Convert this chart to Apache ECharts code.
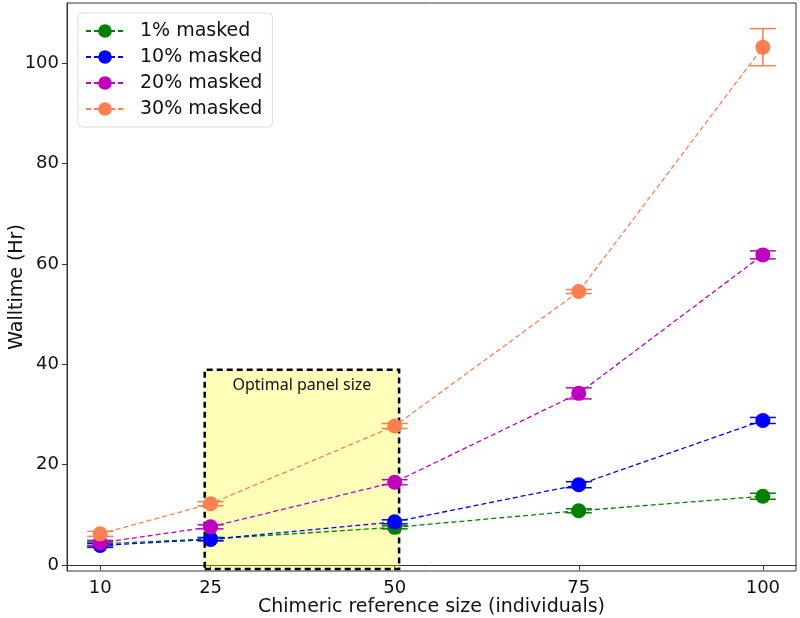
<!DOCTYPE html>
<html>
<head>
<meta charset="utf-8">
<script src="https://cdn.jsdelivr.net/npm/echarts@6/dist/echarts.min.js"></script>
<style>
  html, body { margin: 0; padding: 0; background: #fff; }
  #chart { width: 800px; height: 618px; }
</style>
</head>
<body>
<div id="chart"></div>
<script>
// reference sizes (individuals)
var sizes = [10, 25, 50, 75, 100];
var xTicks = [10, 25, 50, 75, 100];
var yTicks = [0, 20, 40, 60, 80, 100];

var names = ['1% masked', '10% masked', '20% masked', '30% masked'];
var colors = ['#008000', '#0000ff', '#bf00bf', '#ff7f50'];

// walltime means (Hr)
var mask1 = [4.2, 5.2, 7.5, 10.8, 13.7];
var mask10 = [3.9, 5.1, 8.6, 16.0, 28.8];
var mask20 = [4.4, 7.6, 16.5, 34.2, 61.8];
var mask30 = [6.2, 12.2, 27.7, 54.5, 103.2];

// error (+/-)
var err1 = [0.4, 0.3, 0.3, 0.4, 0.6];
var err10 = [0.4, 0.3, 0.4, 0.6, 0.6];
var err20 = [0.5, 0.4, 0.5, 1.1, 0.8];
var err30 = [0.5, 0.4, 0.5, 0.4, 3.7];

// optimal panel box
var boxX = [24.2, 50.6];
var boxY = [-0.8, 38.9];
var boxLabel = 'Optimal panel size';

var means = [mask1, mask10, mask20, mask30];
var errs = [err1, err10, err20, err30];

var chart = echarts.init(document.getElementById('chart'));
var font = 'DejaVu Sans';

function errorSeries(idx) {
  var data = sizes.map(function (x, i) {
    return [x, means[idx][i] - errs[idx][i], means[idx][i] + errs[idx][i]];
  });
  return {
    type: 'custom',
    name: 'err' + idx,
    z: 1,
    silent: true,
    itemStyle: { color: colors[idx] },
    data: data,
    renderItem: function (params, api) {
      var lo = api.coord([api.value(0), api.value(1)]);
      var hi = api.coord([api.value(0), api.value(2)]);
      var cap = 13;
      var st = { stroke: colors[idx], lineWidth: 1.5 };
      return {
        type: 'group',
        children: [
          { type: 'line', shape: { x1: lo[0], y1: lo[1], x2: hi[0], y2: hi[1] }, style: st },
          { type: 'line', shape: { x1: lo[0] - cap, y1: lo[1], x2: lo[0] + cap, y2: lo[1] }, style: st },
          { type: 'line', shape: { x1: hi[0] - cap, y1: hi[1], x2: hi[0] + cap, y2: hi[1] }, style: st }
        ]
      };
    }
  };
}

var series = [];
names.forEach(function (n, idx) {
  series.push({
    type: 'line',
    name: n,
    z: 3,
    data: sizes.map(function (x, i) { return [x, means[idx][i]]; }),
    symbol: 'circle',
    symbolSize: 15,
    itemStyle: { color: colors[idx] },
    lineStyle: { color: colors[idx], width: 1.3, type: [5, 3] }
  });
});
names.forEach(function (n, idx) {
  series.push(errorSeries(idx));
});

// translucent box drawn over the data
series.push({
  type: 'line',
  name: 'box',
  z: 10,
  data: [],
  markArea: {
    silent: true,
    itemStyle: {
      color: 'rgba(255,255,0,0.27)',
      borderColor: '#000',
      borderWidth: 2.5,
      borderType: [6, 4]
    },
    label: {
      show: true,
      position: 'insideTop',
      distance: 9,
      color: '#111',
      fontFamily: 'Noto Sans',
      fontSize: 16
    },
    data: [[
      { name: boxLabel, coord: [boxX[0], boxY[0]] },
      { coord: [boxX[1], boxY[1]] }
    ]]
  }
});

var option = {
  animation: false,
  backgroundColor: '#fff',
  grid: {
    left: 67, right: 4, top: 3, bottom: 47,
    outerBoundsMode: 'none',
    containLabel: false,
    show: true, borderColor: '#333', borderWidth: 1
  },
  legend: {
    data: names,
    orient: 'vertical',
    left: 78, top: 13,
    padding: [7, 10, 7, 7],
    itemWidth: 38, itemHeight: 17,
    itemGap: 4,
    backgroundColor: '#fff',
    borderColor: '#ddd', borderWidth: 1, borderRadius: 4,
    textStyle: { fontFamily: font, fontSize: 19, color: '#111', lineHeight: 22, padding: [0, 0, 0, 11] }
  },
  xAxis: {
    type: 'value',
    min: 5.5, max: 104.5,
    name: 'Chimeric reference size (individuals)',
    nameLocation: 'middle',
    nameGap: 27,
    nameMoveOverlap: false,
    nameTextStyle: { fontFamily: font, fontSize: 19, color: '#111' },
    splitLine: { show: false },
    axisLine: { lineStyle: { color: '#333' } },
    axisTick: { show: true, length: 5, customValues: xTicks, lineStyle: { color: '#333' } },
    axisLabel: { customValues: xTicks, fontFamily: font, fontSize: 18, color: '#111', margin: 8 }
  },
  yAxis: {
    type: 'value',
    min: -1.2, max: 112,
    name: 'Walltime (Hr)',
    nameLocation: 'middle',
    nameGap: 40,
    nameMoveOverlap: false,
    nameTextStyle: { fontFamily: font, fontSize: 19, color: '#111' },
    splitLine: { show: false },
    axisLine: { show: true, lineStyle: { color: '#333' } },
    axisTick: { show: true, length: 5, customValues: yTicks, lineStyle: { color: '#333' } },
    axisLabel: { customValues: yTicks, fontFamily: font, fontSize: 18, color: '#111', margin: 8 }
  },
  series: series
};

chart.setOption(option);
</script>
</body>
</html>
